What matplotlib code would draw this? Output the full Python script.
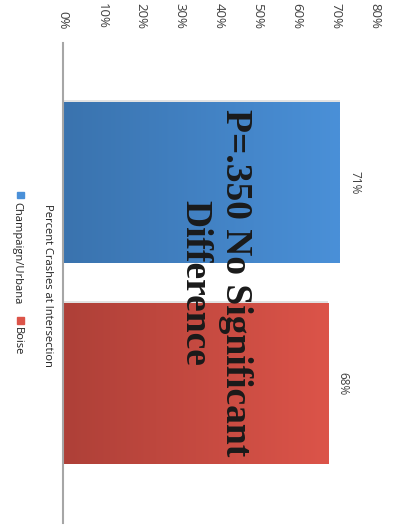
import numpy as np
import matplotlib.pyplot as plt
from matplotlib.patches import Rectangle
from matplotlib.colors import LinearSegmentedColormap

# Percent of crashes occurring at intersections, per city
cities = ["Champaign/Urbana", "Boise"]
pct_at_intersection = [0.71, 0.68]
value_labels = ["71%", "68%"]
x_ticks = [0.0, 0.1, 0.2, 0.3, 0.4, 0.5, 0.6, 0.7, 0.8]
x_tick_labels = ["0%", "10%", "20%", "30%", "40%", "50%", "60%", "70%", "80%"]

# dark -> light ends of each bar's gradient
bar_colors = [("#3a73ae", "#4a90d8"), ("#ae4038", "#dc5449")]

W, H = 393, 529
fig = plt.figure(figsize=(W / 100, H / 100), dpi=100)
ax = fig.add_axes([63 / W, 1 - 523 / H, (375 - 63) / W, (523 - 43) / H])

ypos = np.arange(len(cities))
bars = ax.barh(ypos, pct_at_intersection, height=0.8, color="none", zorder=2)

# gradient fill, clipped to each bar
for bar, (c0, c1) in zip(bars, bar_colors):
    x0, y0 = bar.get_x(), bar.get_y()
    w, h = bar.get_width(), bar.get_height()
    grad = np.linspace(0, 1, 256)[None, :]
    cmap = LinearSegmentedColormap.from_list("g", [c0, c1])
    im = ax.imshow(grad, cmap=cmap, aspect="auto", extent=(x0, x0 + w, y0 + h, y0),
                   zorder=2, interpolation="bilinear")
    im.set_clip_path(bar)
    # faint shadow line along the bar's leading edge
    ax.add_patch(Rectangle((x0, y0 - 0.012), w, 0.012, color="#e2e2e2", zorder=1, lw=0))

ax.set_xlim(0, 0.8)
ax.set_ylim(1.694, -0.694)
ax.xaxis.tick_top()
ax.set_xticks(x_ticks)
ax.set_xticklabels(x_tick_labels, rotation=-90, fontsize=9.5, color="#404040",
                   family="Open Sans")
ax.tick_params(axis="x", length=0, pad=10)
ax.set_yticks([])
for s in ["top", "right", "bottom"]:
    ax.spines[s].set_visible(False)
ax.spines["left"].set_color("#a6a6a6")
ax.spines["left"].set_linewidth(1.5)

# value labels beyond bar ends
for y, v, lab in zip(ypos, pct_at_intersection, value_labels):
    ax.text(v + 0.038, y, lab, rotation=-90, ha="center", va="center",
            fontsize=8.5, color="#404040", family="Open Sans")

# significance note over the bars
ax.text(0.39, 0.5, "P=.350 No Significant\nDifference", rotation=-90,
        ha="center", va="center", fontsize=27, fontweight="bold",
        family="Liberation Serif", color="#1a1a1a", linespacing=1.2, zorder=3)

# axis title
fig.text(47 / W, 1 - 285 / H, "Percent Crashes at Intersection", rotation=-90,
         ha="center", va="center", fontsize=8, color="#202020", family="Open Sans")

# legend entries
legend_items = [(cities[0], 195, bar_colors[0][1]), (cities[1], 320, bar_colors[1][1])]
for name, ytop, col in legend_items:
    fig.patches.append(Rectangle((17 / W, 1 - (ytop + 3.5) / H), 6.5 / W, 6.5 / H,
                                 transform=fig.transFigure, color=col))
    fig.text(17 / W, 1 - (ytop + 7) / H, name, rotation=-90, ha="center", va="top",
             fontsize=8, color="#202020", family="Open Sans")

fig.savefig("out.png", dpi=100)
